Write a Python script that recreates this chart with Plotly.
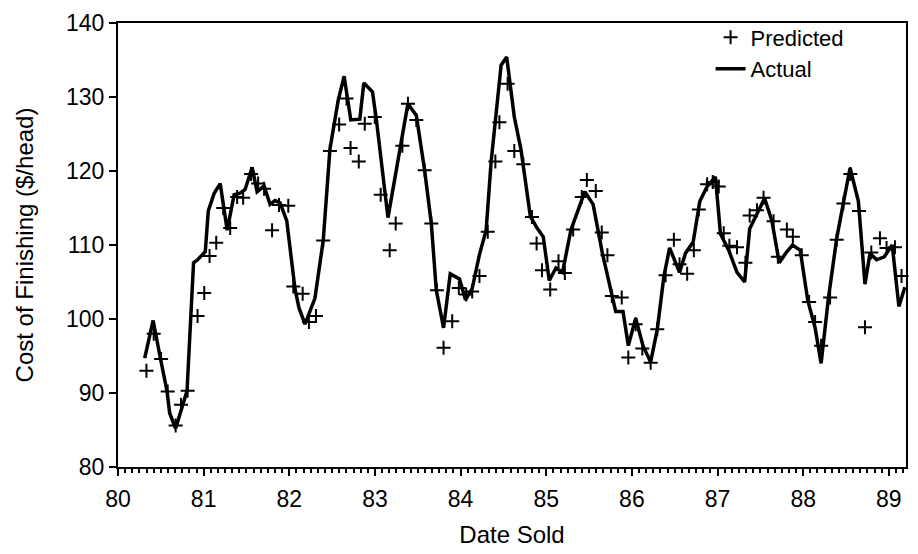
import plotly.graph_objects as go

# Actual cost (line) - date sold (year, 19xx) and $/head
actual_date = [80.312, 80.410, 80.495, 80.573, 80.603, 80.673, 80.806, 80.882, 80.929, 81.019,
               81.054, 81.123, 81.193, 81.275, 81.356, 81.426, 81.484, 81.566, 81.624, 81.705,
               81.775, 81.833, 81.892, 81.970, 82.066, 82.113, 82.183, 82.299, 82.396, 82.474,
               82.570, 82.640, 82.718, 82.823, 82.870, 82.971, 83.017, 83.152, 83.385, 83.483,
               83.580, 83.658, 83.716, 83.801, 83.879, 83.987, 84.057, 84.135, 84.220, 84.298,
               84.356, 84.473, 84.538, 84.627, 84.705, 84.814, 84.887, 84.965, 85.035, 85.113,
               85.190, 85.287, 85.450, 85.547, 85.655, 85.753, 85.811, 85.896, 85.958, 86.044,
               86.129, 86.219, 86.296, 86.374, 86.440, 86.556, 86.626, 86.715, 86.793, 86.878,
               86.975, 87.034, 87.130, 87.227, 87.316, 87.375, 87.480, 87.549, 87.634, 87.720,
               87.797, 87.875, 87.965, 88.053, 88.139, 88.209, 88.294, 88.391, 88.469, 88.547,
               88.644, 88.721, 88.780, 88.856, 88.946, 89.039, 89.117, 89.187]
actual_cost = [94.7, 99.8, 94.7, 90.2, 87.3, 85.2, 90.3, 107.6, 108.0, 109.1,
               114.6, 117.0, 118.3, 112.0, 116.8, 117.0, 117.5, 120.5, 117.2, 118.0,
               115.5, 116.0, 115.7, 113.3, 104.1, 101.5, 99.3, 102.8, 110.6, 122.9,
               129.5, 132.8, 126.9, 127.0, 131.9, 130.7, 126.9, 113.7, 129.1, 127.5,
               120.1, 112.9, 103.9, 98.8, 106.1, 105.4, 102.6, 104.1, 108.7, 112.0,
               121.2, 134.3, 135.4, 127.3, 122.9, 113.9, 112.4, 111.1, 105.2, 106.9,
               106.3, 112.0, 117.2, 115.5, 108.9, 104.1, 101.0, 101.0, 96.4, 100.1,
               96.4, 94.2, 98.6, 105.8, 109.6, 106.3, 108.9, 110.4, 115.9, 117.9,
               119.2, 111.5, 109.3, 106.3, 105.0, 112.2, 114.6, 116.3, 113.3, 107.6,
               108.9, 110.0, 109.3, 102.5, 98.8, 94.0, 102.8, 110.9, 115.7, 120.4,
               115.9, 104.7, 108.9, 108.0, 108.4, 110.0, 101.7, 104.3]

# Predicted cost (crosses)
pred_date = [80.332, 80.417, 80.503, 80.580, 80.673, 80.736, 80.813, 80.929, 81.007, 81.069,
             81.147, 81.228, 81.310, 81.391, 81.461, 81.554, 81.636, 81.705, 81.799, 81.880,
             81.988, 82.047, 82.156, 82.229, 82.311, 82.396, 82.474, 82.582, 82.668, 82.715,
             82.811, 82.881, 82.998, 83.067, 83.172, 83.242, 83.320, 83.385, 83.483, 83.580,
             83.658, 83.723, 83.801, 83.902, 83.979, 84.065, 84.135, 84.220, 84.317, 84.406,
             84.453, 84.549, 84.627, 84.732, 84.833, 84.887, 84.950, 85.046, 85.143, 85.217,
             85.314, 85.415, 85.474, 85.578, 85.648, 85.714, 85.765, 85.881, 85.958, 86.044,
             86.121, 86.219, 86.296, 86.393, 86.490, 86.556, 86.645, 86.723, 86.781, 86.878,
             86.944, 87.014, 87.072, 87.138, 87.227, 87.325, 87.375, 87.460, 87.537, 87.654,
             87.704, 87.809, 87.879, 87.983, 88.069, 88.139, 88.209, 88.314, 88.391, 88.469,
             88.550, 88.652, 88.721, 88.795, 88.896, 88.973, 89.071, 89.148, 89.227]
pred_cost = [93.0, 98.0, 94.6, 90.2, 85.6, 88.4, 90.3, 100.4, 103.5, 108.5,
             110.3, 115.0, 112.3, 116.5, 116.4, 119.6, 118.3, 117.6, 112.0, 115.4,
             115.3, 104.4, 103.4, 99.6, 100.4, 110.6, 122.7, 126.3, 129.8, 123.1,
             121.3, 126.4, 127.3, 116.8, 109.3, 112.9, 123.4, 129.1, 126.9, 120.1,
             112.9, 103.9, 96.1, 99.7, 104.2, 103.3, 103.7, 105.8, 111.8, 121.3,
             126.6, 131.8, 122.7, 120.9, 113.8, 110.2, 106.6, 104.0, 107.8, 106.2,
             112.1, 116.5, 118.8, 117.3, 111.7, 108.6, 103.1, 102.9, 94.8, 99.3,
             96.0, 94.1, 98.6, 105.9, 110.7, 107.4, 106.1, 109.3, 114.8, 118.2,
             118.5, 117.9, 111.6, 109.9, 109.7, 107.6, 114.0, 114.7, 116.4, 113.2,
             108.4, 112.1, 111.1, 108.6, 102.3, 99.6, 96.4, 102.9, 110.7, 115.6,
             119.6, 114.6, 98.9, 109.0, 110.9, 109.6, 109.7, 105.8, 104.4]

x_ticks = [80, 81, 82, 83, 84, 85, 86, 87, 88, 89]
y_ticks = [80, 90, 100, 110, 120, 130, 140]

FONT = "Liberation Sans, Arial, Helvetica, sans-serif"

fig = go.Figure()
fig.add_trace(go.Scatter(
    x=actual_date, y=actual_cost, mode="lines", name="Actual",
    line=dict(color="black", width=3.5),
))
fig.add_trace(go.Scatter(
    x=pred_date, y=pred_cost, mode="markers", name="Predicted",
    marker=dict(symbol="cross-thin", size=10, color="black",
                line=dict(color="black", width=2)),
    cliponaxis=False,
))

fig.update_layout(
    width=918, height=554,
    margin=dict(l=118, r=10, t=17, b=81),
    paper_bgcolor="white", plot_bgcolor="white",
    font=dict(family=FONT, size=22, color="black"),
    showlegend=True,
    legend=dict(x=0.752, y=1.015, xanchor="left", yanchor="top",
                traceorder="reversed", bgcolor="rgba(0,0,0,0)",
                font=dict(size=22), itemwidth=30, tracegroupgap=0),
    xaxis=dict(
        range=[80, 89.2], tickvals=x_ticks, ticktext=[str(v) for v in x_ticks],
        ticks="outside", ticklen=7, tickwidth=2, tickcolor="black",
        ticklabelstandoff=3,
        showline=True, linecolor="black", linewidth=2, mirror=True,
        showgrid=False, zeroline=False,
        minor=dict(dtick=1/12, tick0=80, ticks="outside", ticklen=4,
                   tickwidth=1.5, tickcolor="black", showgrid=False),
        title=dict(text="Date Sold", font=dict(size=24), standoff=16),
        tickfont=dict(size=23),
    ),
    yaxis=dict(
        range=[80, 140], tickvals=y_ticks, ticktext=[str(v) for v in y_ticks],
        ticks="outside", ticklen=7, tickwidth=2, tickcolor="black",
        showline=True, linecolor="black", linewidth=2, mirror=True,
        showgrid=False, zeroline=False,
        title=dict(text="Cost of Finishing ($/head)", font=dict(size=24), standoff=26),
        tickfont=dict(size=23),
    ),
)

fig.write_html("out.html")
